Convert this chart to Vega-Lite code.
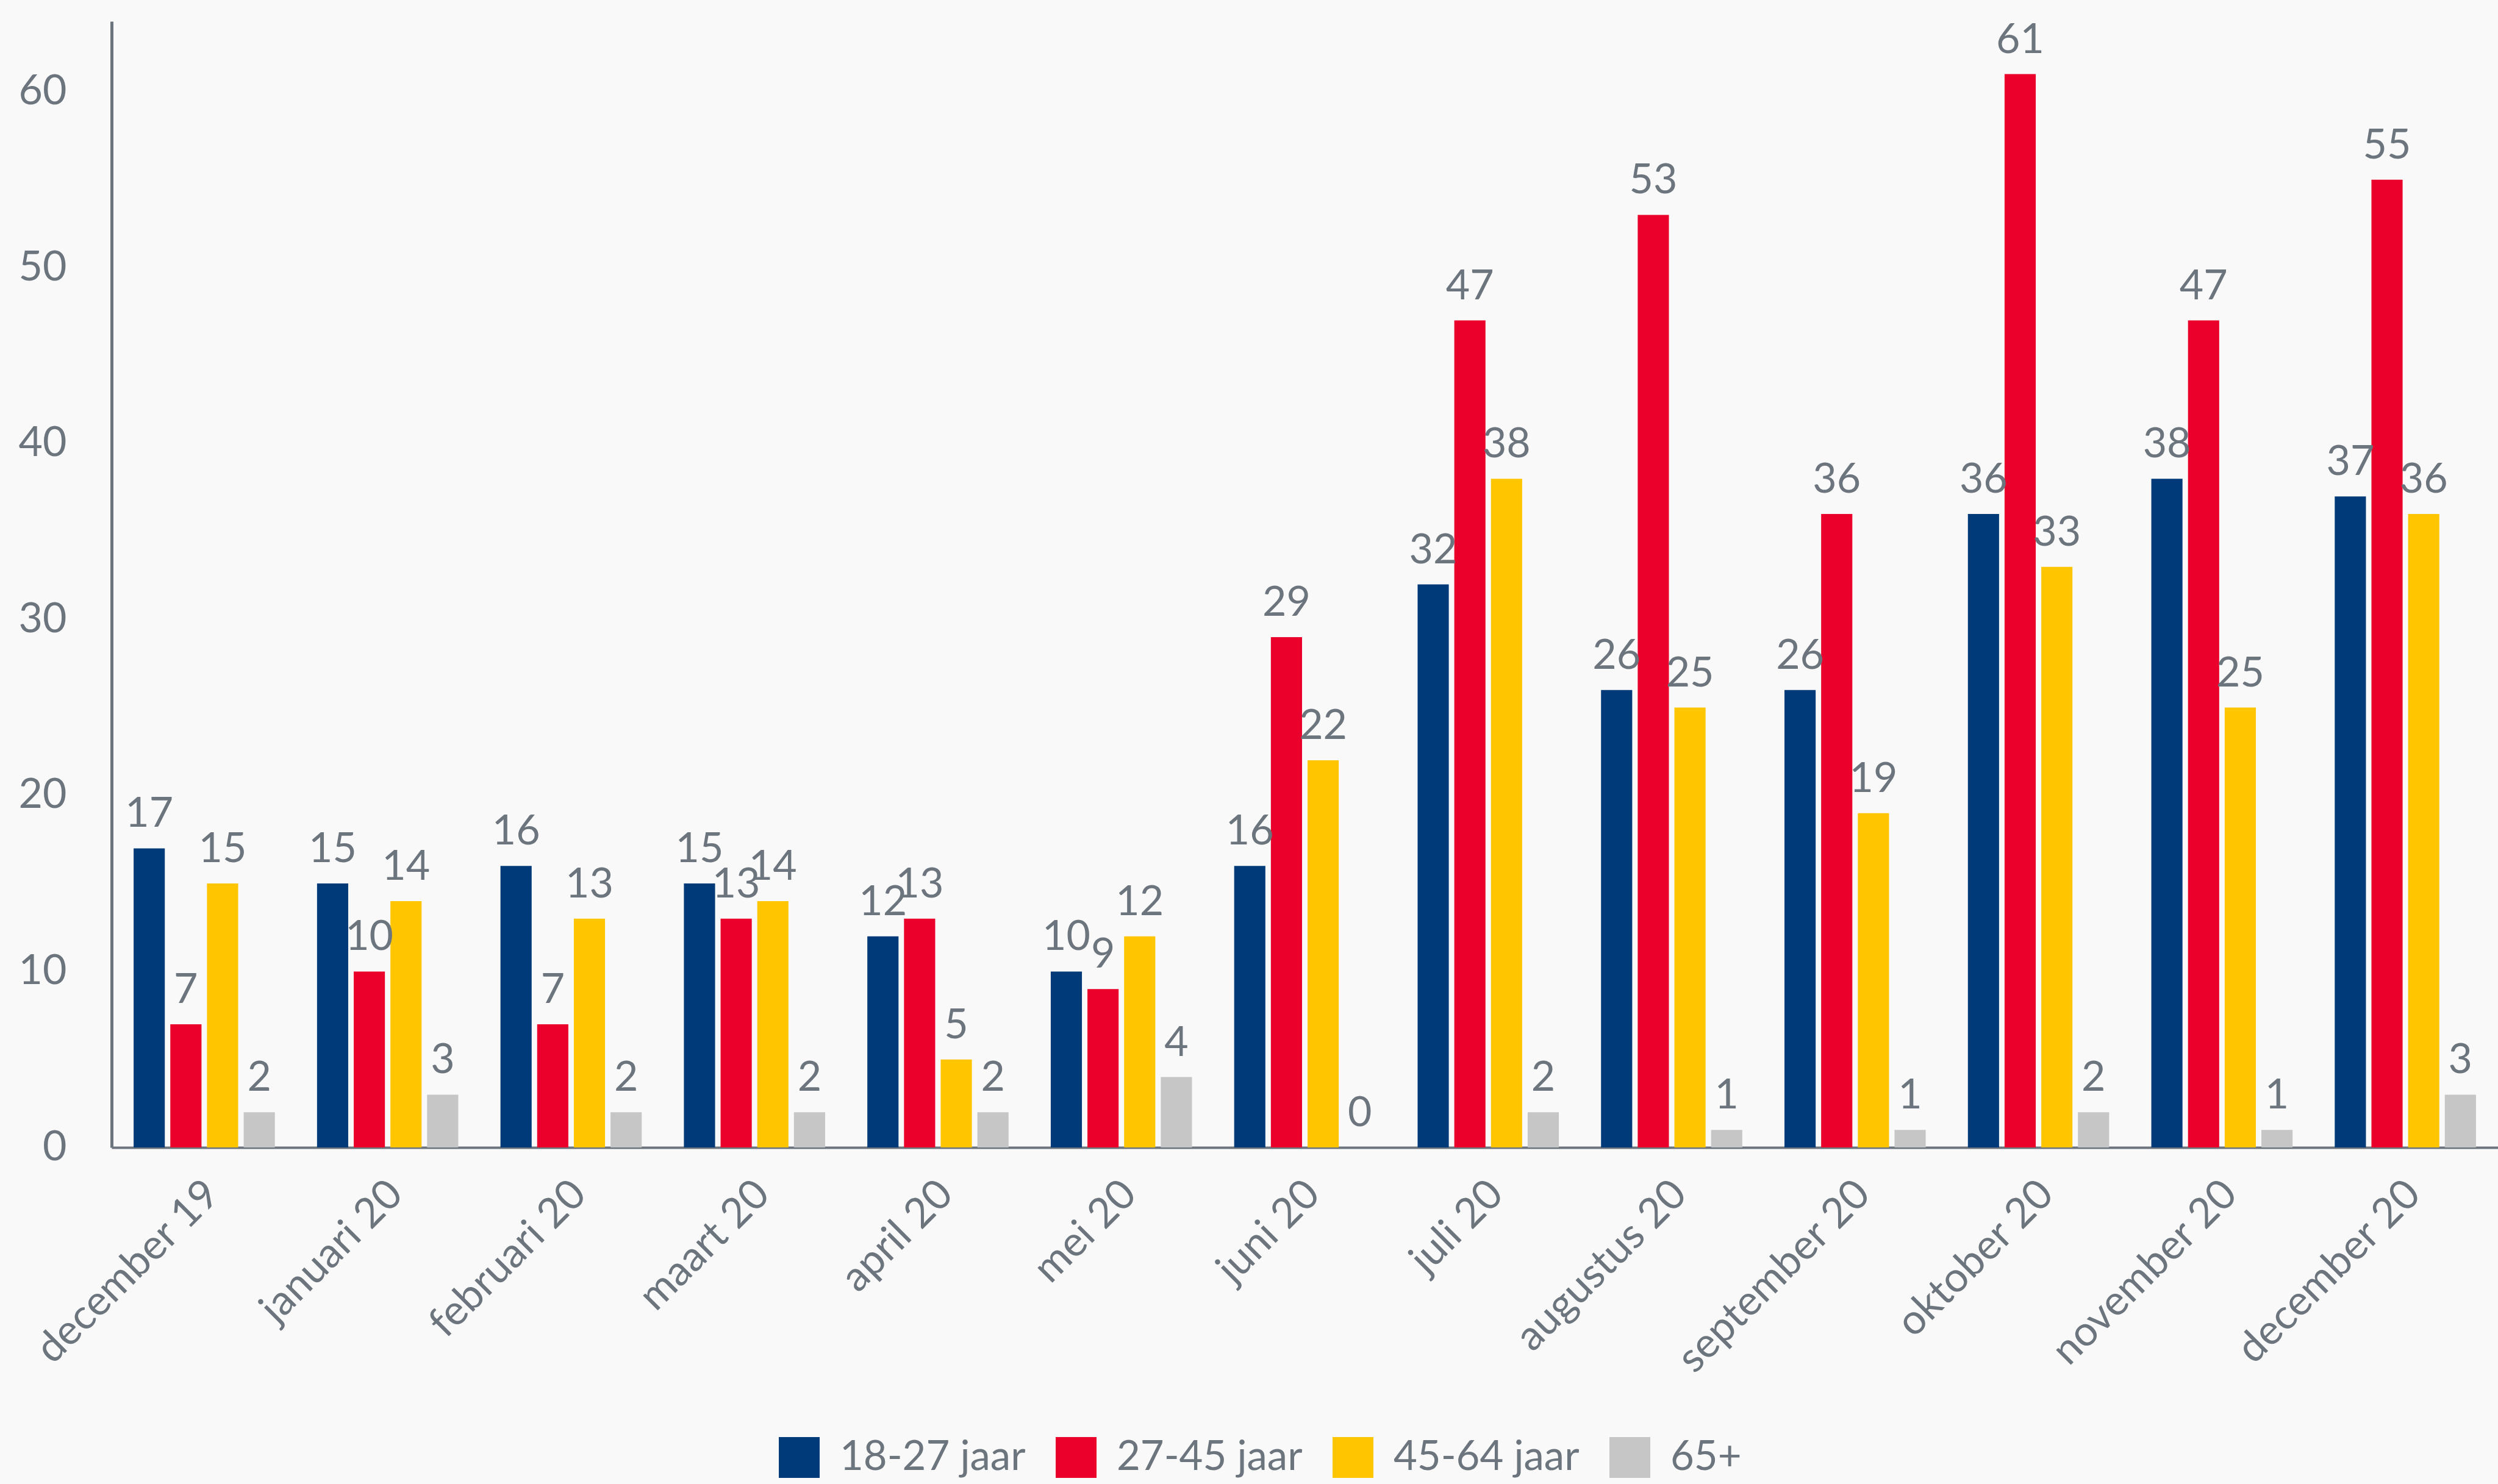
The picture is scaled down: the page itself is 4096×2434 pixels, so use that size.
{
  "$schema": "https://vega.github.io/schema/vega-lite/v6.json",
  "width": 3913,
  "height": 1847,
  "autosize": {"type": "none"},
  "padding": {"left": 183, "top": 35, "right": 0, "bottom": 552},
  "background": "#f9f9f9",
  "config": {
    "font": "Lato",
    "view": {"stroke": null},
    "axis": {"labelFont": "Lato", "labelColor": "#6c757d", "labelFontSize": 68, "labelLimit": 0, "domainColor": "#6c757d", "grid": false, "ticks": false, "tickSize": 0, "title": null}
  },
  "data": {"values": [
    {"maand": "december 19", "groep": "18-27 jaar", "waarde": 17},
    {"maand": "december 19", "groep": "27-45 jaar", "waarde": 7},
    {"maand": "december 19", "groep": "45-64 jaar", "waarde": 15},
    {"maand": "december 19", "groep": "65+", "waarde": 2},
    {"maand": "januari 20", "groep": "18-27 jaar", "waarde": 15},
    {"maand": "januari 20", "groep": "27-45 jaar", "waarde": 10},
    {"maand": "januari 20", "groep": "45-64 jaar", "waarde": 14},
    {"maand": "januari 20", "groep": "65+", "waarde": 3},
    {"maand": "februari 20", "groep": "18-27 jaar", "waarde": 16},
    {"maand": "februari 20", "groep": "27-45 jaar", "waarde": 7},
    {"maand": "februari 20", "groep": "45-64 jaar", "waarde": 13},
    {"maand": "februari 20", "groep": "65+", "waarde": 2},
    {"maand": "maart 20", "groep": "18-27 jaar", "waarde": 15},
    {"maand": "maart 20", "groep": "27-45 jaar", "waarde": 13},
    {"maand": "maart 20", "groep": "45-64 jaar", "waarde": 14},
    {"maand": "maart 20", "groep": "65+", "waarde": 2},
    {"maand": "april 20", "groep": "18-27 jaar", "waarde": 12},
    {"maand": "april 20", "groep": "27-45 jaar", "waarde": 13},
    {"maand": "april 20", "groep": "45-64 jaar", "waarde": 5},
    {"maand": "april 20", "groep": "65+", "waarde": 2},
    {"maand": "mei 20", "groep": "18-27 jaar", "waarde": 10},
    {"maand": "mei 20", "groep": "27-45 jaar", "waarde": 9},
    {"maand": "mei 20", "groep": "45-64 jaar", "waarde": 12},
    {"maand": "mei 20", "groep": "65+", "waarde": 4},
    {"maand": "juni 20", "groep": "18-27 jaar", "waarde": 16},
    {"maand": "juni 20", "groep": "27-45 jaar", "waarde": 29},
    {"maand": "juni 20", "groep": "45-64 jaar", "waarde": 22},
    {"maand": "juni 20", "groep": "65+", "waarde": 0},
    {"maand": "juli 20", "groep": "18-27 jaar", "waarde": 32},
    {"maand": "juli 20", "groep": "27-45 jaar", "waarde": 47},
    {"maand": "juli 20", "groep": "45-64 jaar", "waarde": 38},
    {"maand": "juli 20", "groep": "65+", "waarde": 2},
    {"maand": "augustus 20", "groep": "18-27 jaar", "waarde": 26},
    {"maand": "augustus 20", "groep": "27-45 jaar", "waarde": 53},
    {"maand": "augustus 20", "groep": "45-64 jaar", "waarde": 25},
    {"maand": "augustus 20", "groep": "65+", "waarde": 1},
    {"maand": "september 20", "groep": "18-27 jaar", "waarde": 26},
    {"maand": "september 20", "groep": "27-45 jaar", "waarde": 36},
    {"maand": "september 20", "groep": "45-64 jaar", "waarde": 19},
    {"maand": "september 20", "groep": "65+", "waarde": 1},
    {"maand": "oktober 20", "groep": "18-27 jaar", "waarde": 36},
    {"maand": "oktober 20", "groep": "27-45 jaar", "waarde": 61},
    {"maand": "oktober 20", "groep": "45-64 jaar", "waarde": 33},
    {"maand": "oktober 20", "groep": "65+", "waarde": 2},
    {"maand": "november 20", "groep": "18-27 jaar", "waarde": 38},
    {"maand": "november 20", "groep": "27-45 jaar", "waarde": 47},
    {"maand": "november 20", "groep": "45-64 jaar", "waarde": 25},
    {"maand": "november 20", "groep": "65+", "waarde": 1},
    {"maand": "december 20", "groep": "18-27 jaar", "waarde": 37},
    {"maand": "december 20", "groep": "27-45 jaar", "waarde": 55},
    {"maand": "december 20", "groep": "45-64 jaar", "waarde": 36},
    {"maand": "december 20", "groep": "65+", "waarde": 3}
  ]},
  "encoding": {
    "x": {
      "field": "maand", "type": "nominal", "sort": null,
      "scale": {"paddingInner": 0.23, "paddingOuter": 0.12},
      "axis": {"labelAngle": -45, "labelPadding": 42, "labelOffset": -10, "domainWidth": 4}
    },
    "xOffset": {"field": "groep", "type": "nominal", "scale": {"paddingInner": 0.15, "paddingOuter": 0}},
    "y": {
      "field": "waarde", "type": "quantitative",
      "scale": {"domain": [0, 64], "nice": false},
      "axis": {"values": [0, 10, 20, 30, 40, 50, 60], "labelPadding": 74, "domainWidth": 5}
    }
  },
  "layer": [
    {
      "mark": {"type": "bar"},
      "encoding": {
        "color": {
          "field": "groep", "type": "nominal",
          "scale": {"domain": ["18-27 jaar", "27-45 jaar", "45-64 jaar", "65+"], "range": ["#003a78", "#ea002a", "#ffc600", "#c6c6c6"]},
          "legend": {
            "title": null, "orient": "none", "direction": "horizontal",
            "legendX": 1094, "legendY": 2322,
            "symbolType": "square", "symbolSize": 4489, "symbolStrokeWidth": 0,
            "labelFont": "Lato", "labelFontSize": 67, "labelColor": "#6c757d", "labelLimit": 0,
            "labelOffset": 33, "columnPadding": 49
          }
        }
      }
    },
    {
      "mark": {"type": "text", "font": "Lato", "fontSize": 68, "color": "#6c757d", "baseline": "alphabetic", "dy": -35},
      "encoding": {"text": {"field": "waarde", "type": "quantitative"}}
    }
  ]
}
